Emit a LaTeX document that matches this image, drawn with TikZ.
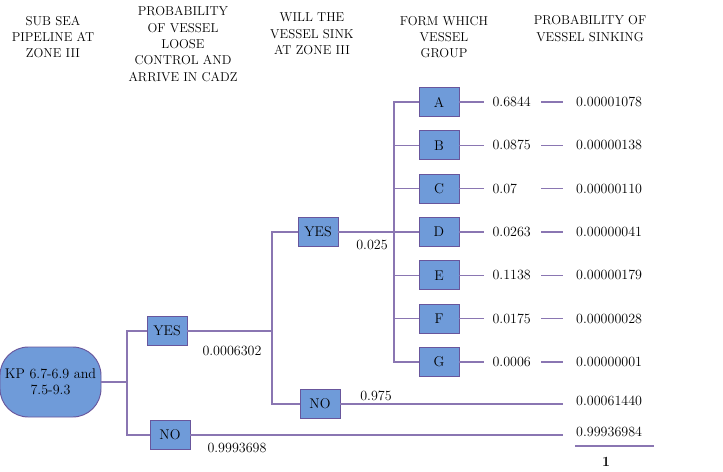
\documentclass[tikz,border=0pt]{standalone}
\usetikzlibrary{positioning,calc}
\definecolor{boxblue}{RGB}{111,155,217}
\definecolor{boxedge}{RGB}{104,86,156}
\definecolor{branchline}{RGB}{138,118,178}

\begin{document}
\begin{tikzpicture}[x=0.03cm, y=-0.03cm,
    every node/.style={font=\fontsize{12}{14}\selectfont},
    head/.style={align=center, font=\fontsize{11}{14}\selectfont},
    group/.style={draw=boxedge, line width=0.8pt, fill=boxblue, minimum width=1.2cm, minimum height=0.87cm, inner sep=0pt},
    branch/.style={draw=branchline, line width=1pt},
    midval/.style={anchor=west, text width=1.2cm, align=left, inner xsep=0.25cm, inner ysep=0pt},
    endval/.style={anchor=west, inner xsep=0.39cm, inner ysep=0pt}]
    \useasboundingbox (0,0) rectangle (723,471);
    % Column headings
    \node[head] (h1) at (53,37) {SUB SEA\\PIPELINE AT\\ZONE III};
    \node[head] (h2) at (183,44) {PROBABILITY\\OF VESSEL\\LOOSE\\CONTROL AND\\ARRIVE IN CADZ};
    \node[head] (h3) at (312,34) {WILL THE\\VESSEL SINK\\AT ZONE III};
    \node[head] (h4) at (444,37) {FORM WHICH\\VESSEL\\GROUP};
    \node[head] (h5) at (590,28.5) {PROBABILITY OF\\VESSEL SINKING};
    % Start of the tree
    \node[draw=boxedge, line width=0.8pt, fill=boxblue, rounded corners=0.85cm, minimum width=3.03cm, minimum height=2.1cm, align=center, inner sep=0pt] (kp) at (50.5,382) {KP 6.7-6.9 and\\7.5-9.3};
    \node[group] (yes1) at (167,331) {YES};
    \node[group] (no1) at (170,435) {NO};
    \node[group] (yes2) at (318,232) {YES};
    \node[group] (no2) at (320,404) {NO};
    \coordinate (t1) at (127,382);
    \coordinate (t2) at (272,331);
    \coordinate (t3) at (394,232);
    \draw[branch] (kp) -- (t1) |- (yes1);
    \draw[branch] (t1) |- (no1);
    \draw[branch] (yes1) -- (t2) |- (yes2);
    \draw[branch] (t2) |- (no2);
    \draw[branch] (yes2) -- (t3);
    % Branch probabilities
    \node (pyes1) at (232,351) {0.0006302};
    \node (pno1) at (237,448) {0.9993698};
    \node (pyes2) at (372,245) {0.025};
    \node (pno2) at (376,396) {0.975};
    % Vessel groups
    \foreach \g/\p/\q [count=\i] in {A/0.6844/0.00001078, B/0.0875/0.00000138, C/0.07/0.00000110, D/0.0263/0.00000041, E/0.1138/0.00000179, F/0.0175/0.00000028, G/0.0006/0.00000001} {
        \node[group] (\g) at (439,{102+43.33*(\i-1)}) {\g};
        \node[midval] (p\g) at (484,{102+43.33*(\i-1)}) {\p};
        \node[endval] (q\g) at (563,{102+43.33*(\i-1)}) {\q};
        \draw[branch] (t3) |- (\g);
        \draw[branch] (\g) -- (p\g);
        \draw[branch] (p\g) -- (q\g);
    }
    % Outcomes of the NO branches
    \node[endval] (qno2) at (563,401) {0.00061440};
    \node[endval] (qno1) at (563,432) {0.99936984};
    \draw[branch] (no2) -- (no2 -| qno2.west);
    \draw[branch] (no1) -- (no1 -| qno1.west);
    % Sum
    \draw[branch] (575,446) -- (654,446);
    \node[font=\fontsize{12}{14}\selectfont\bfseries] (total) at (606,462) {1};
\end{tikzpicture}
\end{document}
